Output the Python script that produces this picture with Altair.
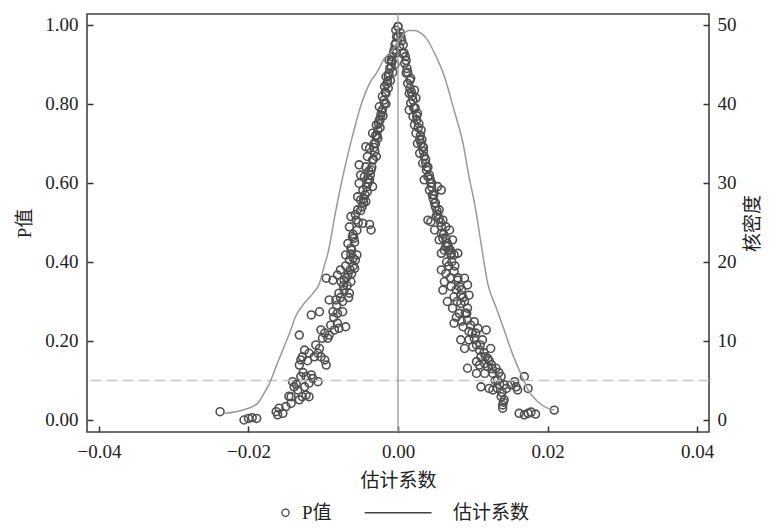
import altair as alt
import pandas as pd

# ---- scatter: placebo estimates (coefficient, P value) ----
coef = [
    -0.0238, -0.0206, -0.0200, -0.0195, -0.0189, -0.0163, -0.0159, -0.0161, -0.0154, -0.0150,
    -0.0143, -0.0143, -0.0139, -0.0141, -0.0134, -0.0132, -0.0128, -0.0123, -0.0119, -0.0125,
    -0.0119, -0.0114, -0.0107, -0.0130, -0.0116, -0.0123, -0.0132, -0.0128, -0.0130, -0.0125,
    -0.0132, -0.0119, -0.0112, -0.0107, -0.0105, -0.0103, -0.0096, -0.0098, -0.0101, -0.0094,
    -0.0103, -0.0092, -0.0085, -0.0079, -0.0070, -0.0081, -0.0116, -0.0105, -0.0087, -0.0081,
    -0.0074, -0.0092, -0.0083, -0.0074, -0.0079, -0.0072, -0.0065, -0.0096, -0.0087, -0.0081,
    -0.0072, -0.0067, -0.0063, -0.0077, -0.0058, -0.0065, -0.0057, -0.0063, -0.0055,
    -0.0068, -0.0062, -0.0060, -0.0070, -0.0066, -0.0076,
    -0.0070, -0.0063, -0.0067, -0.0061, -0.0065, -0.0063, -0.0056, -0.0047, -0.0038, -0.0036,
    -0.0054, -0.0050, -0.0054, -0.0043, -0.0047, -0.0041, -0.0052, -0.0034, -0.0045, -0.0038,
    -0.0050, -0.0043, -0.0036, -0.0052, -0.0034, -0.0041, -0.0029, -0.0038, -0.0032, -0.0043,
    -0.0027, -0.0034, -0.0027, -0.0029, -0.0025, -0.0023, -0.0021, -0.0025, -0.0018, -0.0021,
    -0.0016, -0.0018, -0.0014, -0.0016, -0.0012, -0.0009, -0.0012, -0.0008, -0.0005, -0.0003,
    -0.0008, 0.0000, 0.0000, -0.0003,
    -0.0058, -0.0060, -0.0057, -0.0048, -0.0046, -0.0040, -0.0039, -0.0031, -0.0030, -0.0024,
    -0.0020, -0.0016, -0.0013, -0.0010, -0.0007, -0.0004, -0.0002,
    -0.0062, -0.0059, -0.0055, -0.0053, -0.0050, -0.0046, -0.0044, -0.0042, -0.0040, -0.0037,
    -0.0035, -0.0033, -0.0032, -0.0030, -0.0028, -0.0026, -0.0024, -0.0022, -0.0019, -0.0017,
    -0.0015, -0.0013, -0.0011, -0.0009, -0.0006, -0.0004, -0.0002,
    -0.0060, -0.0064, -0.0069, -0.0073, -0.0077, -0.0082, -0.0086, -0.0090, -0.0098, -0.0110,
    -0.0121, -0.0127, -0.0136, -0.0146,
    0.0000, 0.0004, 0.0002, 0.0006, 0.0009, 0.0011, 0.0017, 0.0013, 0.0015, 0.0022,
    0.0017, 0.0024, 0.0015, 0.0020, 0.0026, 0.0022, 0.0024, 0.0031, 0.0026, 0.0033,
    0.0029, 0.0035, 0.0033, 0.0038, 0.0040, 0.0035, 0.0044, 0.0042, 0.0046, 0.0053,
    0.0058, 0.0049, 0.0055, 0.0051, 0.0040, 0.0044, 0.0060, 0.0064, 0.0049, 0.0058,
    0.0069, 0.0055, 0.0066, 0.0073, 0.0062, 0.0071, 0.0075,
    0.0007, 0.0010, 0.0012, 0.0016, 0.0019, 0.0021, 0.0025, 0.0027, 0.0029, 0.0031,
    0.0034, 0.0037, 0.0039, 0.0042, 0.0045, 0.0047, 0.0050, 0.0053, 0.0057, 0.0060,
    0.0064, 0.0068,
    0.0003, 0.0005, 0.0008, 0.0011, 0.0013, 0.0016, 0.0018, 0.0020, 0.0023, 0.0025,
    0.0028, 0.0030, 0.0032, 0.0034, 0.0037, 0.0040, 0.0043, 0.0045, 0.0048, 0.0050,
    0.0052, 0.0055, 0.0058, 0.0061, 0.0064, 0.0067, 0.0070,
    0.0058, 0.0071, 0.0080, 0.0058, 0.0064, 0.0075, 0.0089, 0.0080, 0.0060, 0.0071,
    0.0082, 0.0093, 0.0095, 0.0084, 0.0075, 0.0084, 0.0073, 0.0093, 0.0082, 0.0075,
    0.0093, 0.0102, 0.0087, 0.0095, 0.0107, 0.0118, 0.0084, 0.0095, 0.0102, 0.0113,
    0.0089, 0.0100, 0.0109, 0.0124, 0.0111, 0.0120, 0.0105, 0.0116, 0.0093, 0.0109,
    0.0120, 0.0131, 0.0105, 0.0116, 0.0127, 0.0138, 0.0133, 0.0111, 0.0122, 0.0127,
    0.0133, 0.0142, 0.0145, 0.0138, 0.0142, 0.0140, 0.0140, 0.0151, 0.0158, 0.0156,
    0.0160, 0.0169, 0.0174, 0.0162, 0.0169, 0.0174, 0.0178, 0.0184, 0.0209,
    0.0065, 0.0068, 0.0062, 0.0070, 0.0078, 0.0066, 0.0079, 0.0087, 0.0078, 0.0090,
    0.0085, 0.0099, 0.0105, 0.0115, 0.0125, 0.0130, 0.0136, 0.0139, 0.0141,
    0.0072, 0.0076, 0.0080, 0.0085, 0.0089, 0.0092, 0.0097, 0.0104, 0.0110, 0.0117,
    0.0122, 0.0126, 0.0135,
]
pval = [
    0.021, 0.000, 0.004, 0.006, 0.004, 0.021, 0.030, 0.013, 0.017, 0.034,
    0.042, 0.059, 0.084, 0.097, 0.076, 0.051, 0.059, 0.063, 0.059, 0.084,
    0.093, 0.105, 0.097, 0.110, 0.114, 0.110, 0.139, 0.160, 0.152, 0.177,
    0.215, 0.169, 0.160, 0.169, 0.181, 0.160, 0.139, 0.152, 0.207, 0.207,
    0.228, 0.215, 0.228, 0.232, 0.236, 0.245, 0.266, 0.274, 0.274, 0.270,
    0.274, 0.304, 0.304, 0.300, 0.321, 0.329, 0.321, 0.359, 0.354, 0.367,
    0.354, 0.367, 0.350, 0.380, 0.384, 0.405, 0.405, 0.420, 0.418,
    0.340, 0.370, 0.390, 0.390, 0.310, 0.350,
    0.418, 0.435, 0.447, 0.464, 0.489, 0.515, 0.506, 0.498, 0.495, 0.481,
    0.532, 0.557, 0.565, 0.553, 0.582, 0.578, 0.599, 0.591, 0.616, 0.608,
    0.620, 0.641, 0.633, 0.646, 0.658, 0.667, 0.667, 0.688, 0.700, 0.692,
    0.713, 0.726, 0.734, 0.747, 0.759, 0.772, 0.785, 0.793, 0.802, 0.819,
    0.827, 0.844, 0.857, 0.869, 0.878, 0.894, 0.911, 0.920, 0.937, 0.954,
    0.907, 0.970, 0.996, 0.987,
    0.450, 0.470, 0.520, 0.540, 0.560, 0.600, 0.630, 0.680, 0.720, 0.740,
    0.770, 0.800, 0.840, 0.860, 0.880, 0.900, 0.930,
    0.430, 0.460, 0.480, 0.500, 0.530, 0.550, 0.570, 0.590, 0.610, 0.620,
    0.640, 0.660, 0.690, 0.700, 0.720, 0.750, 0.760, 0.780, 0.810, 0.830,
    0.850, 0.870, 0.890, 0.910, 0.930, 0.950, 0.970,
    0.410, 0.380, 0.360, 0.340, 0.310, 0.290, 0.260, 0.240, 0.220, 0.190,
    0.150, 0.120, 0.090, 0.060,
    0.996, 0.970, 0.945, 0.928, 0.903, 0.878, 0.865, 0.852, 0.827, 0.835,
    0.802, 0.815, 0.785, 0.768, 0.776, 0.747, 0.726, 0.734, 0.700, 0.692,
    0.675, 0.667, 0.650, 0.633, 0.616, 0.608, 0.599, 0.582, 0.570, 0.591,
    0.582, 0.549, 0.532, 0.515, 0.506, 0.502, 0.506, 0.489, 0.481, 0.473,
    0.481, 0.456, 0.447, 0.456, 0.430, 0.422, 0.418,
    0.950, 0.920, 0.890, 0.840, 0.820, 0.790, 0.760, 0.740, 0.710, 0.700,
    0.680, 0.650, 0.640, 0.620, 0.590, 0.560, 0.540, 0.520, 0.500, 0.460,
    0.440, 0.430,
    0.980, 0.960, 0.930, 0.910, 0.880, 0.860, 0.830, 0.810, 0.790, 0.770,
    0.750, 0.720, 0.710, 0.690, 0.660, 0.640, 0.610, 0.600, 0.570, 0.550,
    0.530, 0.510, 0.490, 0.470, 0.460, 0.440, 0.430,
    0.422, 0.418, 0.422, 0.380, 0.371, 0.376, 0.359, 0.354, 0.329, 0.338,
    0.338, 0.342, 0.316, 0.316, 0.312, 0.295, 0.283, 0.283, 0.270, 0.245,
    0.253, 0.249, 0.236, 0.224, 0.232, 0.228, 0.203, 0.203, 0.207, 0.203,
    0.181, 0.185, 0.177, 0.181, 0.160, 0.156, 0.148, 0.143, 0.131, 0.139,
    0.135, 0.131, 0.118, 0.118, 0.118, 0.110, 0.101, 0.084, 0.080, 0.076,
    0.080, 0.089, 0.080, 0.059, 0.051, 0.038, 0.030, 0.089, 0.084, 0.097,
    0.076, 0.110, 0.080, 0.017, 0.013, 0.017, 0.020, 0.015, 0.025,
    0.400, 0.390, 0.350, 0.360, 0.330, 0.300, 0.300, 0.310, 0.260, 0.270,
    0.250, 0.220, 0.190, 0.170, 0.140, 0.100, 0.090, 0.070, 0.045,
    0.400, 0.390, 0.360, 0.330, 0.300, 0.270, 0.240, 0.220, 0.190, 0.160,
    0.150, 0.130, 0.120,
]

# ---- kernel density of the estimates ----
kd_x = [
    -0.0232, -0.0206, -0.0188, -0.0179, -0.0172, -0.0163, -0.0154, -0.0145, -0.0137, -0.0125,
    -0.0114, -0.0105, -0.0099, -0.0094, -0.0083, -0.0072, -0.0061, -0.0050, -0.0038, -0.0027,
    -0.0018, -0.0009, 0.0000, 0.0008, 0.0014, 0.0022, 0.0030, 0.0038, 0.0049, 0.0062,
    0.0075, 0.0087, 0.0095, 0.0104, 0.0111, 0.0120, 0.0131, 0.0142, 0.0153, 0.0165,
    0.0174, 0.0187, 0.0200, 0.0209,
]
kd_y = [
    0.85, 1.3, 2.1, 3.4, 4.6, 6.8, 8.9, 11.0, 13.1, 14.8,
    16.0, 17.3, 19.4, 21.0, 26.6, 31.6, 35.9, 39.7, 42.6, 44.2,
    45.8, 46.6, 47.8, 48.9, 49.3, 49.3, 49.0, 48.3, 46.4, 43.5,
    39.2, 35.0, 30.8, 26.6, 22.4, 17.3, 14.3, 11.4, 8.4, 5.7,
    3.8, 2.3, 1.5, 1.27,
]

zero_line = [0.0]
p_threshold = [0.1]
series = ["P值", "估计系数"]
x_ticks = [-0.04, -0.02, 0.0, 0.02, 0.04]
p_ticks = [0.0, 0.2, 0.4, 0.6, 0.8, 1.0]
kd_ticks = [0, 10, 20, 30, 40, 50]

pts = pd.DataFrame({"coef": coef, "p": pval, "series": series[0]})
kd = pd.DataFrame({"coef": kd_x, "density": kd_y})
vline = pd.DataFrame({"coef": zero_line})
hline = pd.DataFrame({"p": p_threshold})

NUM_FONT = "Liberation Serif"
CJK_FONT = "Liberation Serif, Noto Sans CJK SC"
FS = 19
INK = "#222"

x_scale = alt.Scale(domain=[-0.0416, 0.0416], nice=False, zero=False)
p_scale = alt.Scale(domain=[-0.0304, 1.0278], nice=False, zero=False)
d_scale = alt.Scale(domain=[-1.52, 51.39], nice=False, zero=False)

x_axis = alt.Axis(
    values=x_ticks, format=".2f", title="估计系数", grid=False, domain=False,
    tickSize={"expr": "-6"}, tickColor="#333", tickWidth=1.5,
    labelFont=NUM_FONT, labelFontSize=FS, labelColor=INK, labelPadding=16,
    titleFont=CJK_FONT, titleFontSize=FS, titleFontWeight="normal", titleColor=INK,
    titlePadding=10,
)
p_axis = alt.Axis(
    values=p_ticks, format=".2f", title="P值", grid=False, domain=False,
    tickSize={"expr": "-6"}, tickColor="#333", tickWidth=1.5,
    labelFont=NUM_FONT, labelFontSize=FS, labelColor=INK, labelPadding=15,
    titleFont=CJK_FONT, titleFontSize=FS, titleFontWeight="normal", titleColor=INK,
    titlePadding=10,
)
d_axis = alt.Axis(
    orient="right", values=kd_ticks, title="核密度", grid=False, domain=False,
    tickSize={"expr": "-6"}, tickColor="#333", tickWidth=1.5,
    labelFont=NUM_FONT, labelFontSize=FS, labelColor=INK, labelPadding=14,
    titleFont=CJK_FONT, titleFontSize=FS, titleFontWeight="normal", titleColor=INK,
    titleAngle=270, titlePadding=26,
)

points = alt.Chart(pts).mark_point(
    filled=False, color="#505050", strokeWidth=1.6, size=62, opacity=1
).encode(
    x=alt.X("coef:Q", scale=x_scale, axis=x_axis),
    y=alt.Y("p:Q", scale=p_scale, axis=p_axis),
    shape=alt.Shape("series:N", scale=alt.Scale(domain=series, range=["circle", "M-20.3,0L-1.4,0"]),
                    legend=alt.Legend(
                        title=None, orient="none", legendX=189, legendY=489, direction="horizontal",
                        labelFont=CJK_FONT, labelFontSize=FS, labelColor=INK, labelOffset=7,
                        symbolSize=50, symbolStrokeWidth=1.3, symbolStrokeColor="#444",
                        columnPadding=30,
                    )),
)
hrule = alt.Chart(hline).mark_rule(color="#c4c4c4", strokeWidth=1.6, strokeDash=[10, 6]).encode(
    y=alt.Y("p:Q", scale=p_scale, axis=p_axis)
)
vrule = alt.Chart(vline).mark_rule(color="#999", strokeWidth=1.3).encode(
    x=alt.X("coef:Q", scale=x_scale, axis=x_axis)
)

density = alt.Chart(kd).mark_line(color="#999", strokeWidth=1.5, interpolate="monotone").encode(
    x=alt.X("coef:Q", scale=x_scale, axis=x_axis),
    y=alt.Y("density:Q", scale=d_scale, axis=d_axis),
)

left = alt.layer(points, hrule, vrule)
chart = alt.layer(left, density).resolve_scale(y="independent").properties(
    width=622, height=418,
    autosize=alt.AutoSizeParams(type="none"),
    padding={"left": 79, "top": 6, "right": 54, "bottom": 90},
).configure_view(stroke="#444", strokeWidth=1.6)

chart.save("out.html", embed_options={"renderer": "svg", "actions": False})
